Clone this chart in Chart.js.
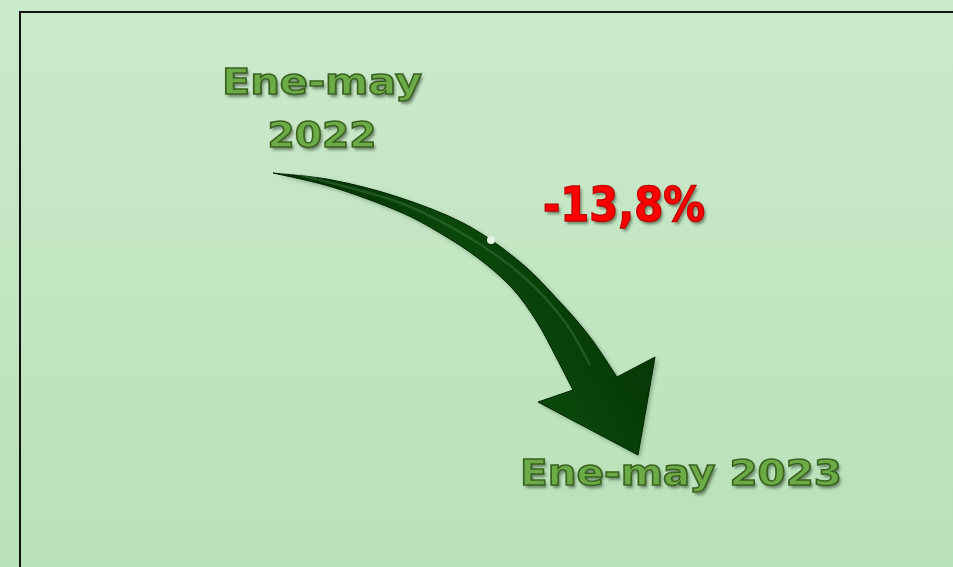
<!DOCTYPE html>
<html>
<head>
<meta charset="utf-8">
<script src="https://cdn.jsdelivr.net/npm/chart.js@4.4.1/dist/chart.umd.min.js"></script>
<style>
html, body { margin: 0; padding: 0; background: #c4e6c4; overflow: hidden; }
canvas { display: block; }
</style>
</head>
<body>
<canvas id="variacion-chart" width="953" height="567"></canvas>
<script>
// datos
var periodos = ['Ene-may 2022', 'Ene-may 2023'];
var variacion = [-13.8];

function etiquetaVariacion(v){
	return (v > 0 ? '+' : '') + v.toFixed(1).replace('.', ',') + '%';
}

// texto con contorno y sombra, ajustado a un ancho
function drawLabel(ctx, text, cx, baseY, size, width, fill, stroke){
	ctx.save();
	ctx.font = '700 ' + size + 'px "DejaVu Sans"';
	ctx.textAlign = 'center';
	ctx.textBaseline = 'alphabetic';
	var w = ctx.measureText(text).width;
	ctx.translate(cx, baseY);
	ctx.scale(width / w, 1);
	ctx.shadowColor = 'rgba(40,60,40,0.55)';
	ctx.shadowOffsetX = 2;
	ctx.shadowOffsetY = 3;
	ctx.shadowBlur = 3;
	ctx.fillStyle = fill;
	ctx.fillText(text, 0, 0);
	ctx.shadowColor = 'transparent';
	ctx.lineWidth = 1.5;
	ctx.strokeStyle = stroke;
	ctx.strokeText(text, 0, 0);
	ctx.restore();
}

// curva suave por puntos (cardinal)
function spline(ctx, pts, first){
	if(first) ctx.moveTo(pts[0][0], pts[0][1]);
	else ctx.lineTo(pts[0][0], pts[0][1]);
	for(var i = 0; i < pts.length - 1; i++){
		var p0 = pts[Math.max(i - 1, 0)], p1 = pts[i], p2 = pts[i + 1], p3 = pts[Math.min(i + 2, pts.length - 1)];
		var t = 1 / 6;
		ctx.bezierCurveTo(p1[0] + (p2[0] - p0[0]) * t, p1[1] + (p2[1] - p0[1]) * t,
			p2[0] - (p3[0] - p1[0]) * t, p2[1] - (p3[1] - p1[1]) * t,
			p2[0], p2[1]);
	}
}

var bordeSup = [[273,173],[332,180],[398,197],[465,224],[520,262],[560,302],[590,337],[617,377]];
var punta = [[655,357],[638,455],[538,402],[573,390]];
var bordeInf = [[573,390],[556,357],[537,322],[512,288],[478,258],[440,233],[398,211],[332,187],[273,173]];
var brillo = [[300,175],[398,202],[470,238],[525,278],[565,322],[590,365]];

var infografico = {
	id: 'infografico',
	beforeDraw: function(chart){
		var ctx = chart.ctx;
		var g = ctx.createLinearGradient(0, 0, 0, chart.height);
		g.addColorStop(0, '#cce9cc');
		g.addColorStop(1, '#b8e2b8');
		ctx.save();
		ctx.fillStyle = g;
		ctx.fillRect(0, 0, chart.width, chart.height);
		// marco
		ctx.strokeStyle = '#111';
		ctx.lineWidth = 2;
		ctx.beginPath();
		ctx.moveTo(20, chart.height + 2);
		ctx.lineTo(20, 12);
		ctx.lineTo(chart.width + 2, 12);
		ctx.stroke();
		ctx.restore();
	},
	afterDraw: function(chart){
		var ctx = chart.ctx;
		// flecha
		ctx.save();
		ctx.beginPath();
		spline(ctx, bordeSup, true);
		punta.forEach(function(p){ ctx.lineTo(p[0], p[1]); });
		spline(ctx, bordeInf, false);
		ctx.closePath();
		var ag = ctx.createLinearGradient(380, 300, 560, 200);
		ag.addColorStop(0, '#033203');
		ag.addColorStop(0.5, '#0b470b');
		ag.addColorStop(1, '#053805');
		ctx.shadowColor = 'rgba(0,40,0,0.35)';
		ctx.shadowOffsetX = 2;
		ctx.shadowOffsetY = 2;
		ctx.shadowBlur = 4;
		ctx.fillStyle = ag;
		ctx.fill();
		ctx.shadowColor = 'transparent';
		ctx.lineWidth = 1;
		ctx.strokeStyle = '#022402';
		ctx.stroke();
		// brillo
		ctx.beginPath();
		spline(ctx, brillo, true);
		ctx.lineWidth = 2.5;
		ctx.strokeStyle = 'rgba(80,140,80,0.35)';
		ctx.stroke();
		ctx.beginPath();
		ctx.arc(491, 240, 4, 0, Math.PI * 2);
		ctx.fillStyle = '#e8f2e8';
		ctx.fill();
		ctx.restore();

		var p1 = periodos[0].split(' ');
		drawLabel(ctx, p1[0], 322, 94, 36, 200, '#6cab45', '#3a6322');
		drawLabel(ctx, p1[1], 322, 147, 36, 109, '#6cab45', '#3a6322');
		drawLabel(ctx, periodos[1], 681, 485, 36, 322, '#6cab45', '#3a6322');
		drawLabel(ctx, etiquetaVariacion(variacion[0]), 624, 221, 48, 162, '#ff0000', '#c40000');
	}
};

var myChart = new Chart(document.getElementById('variacion-chart'), {
	type: 'line',
	data: {
		labels: periodos,
		datasets: []
	},
	options: {
		responsive: false,
		animation: false,
		layout: { padding: 0 },
		plugins: {
			legend: { display: false },
			tooltip: { enabled: false }
		},
		scales: {
			x: { display: false },
			y: { display: false }
		}
	},
	plugins: [infografico]
});
</script>
</body>
</html>
